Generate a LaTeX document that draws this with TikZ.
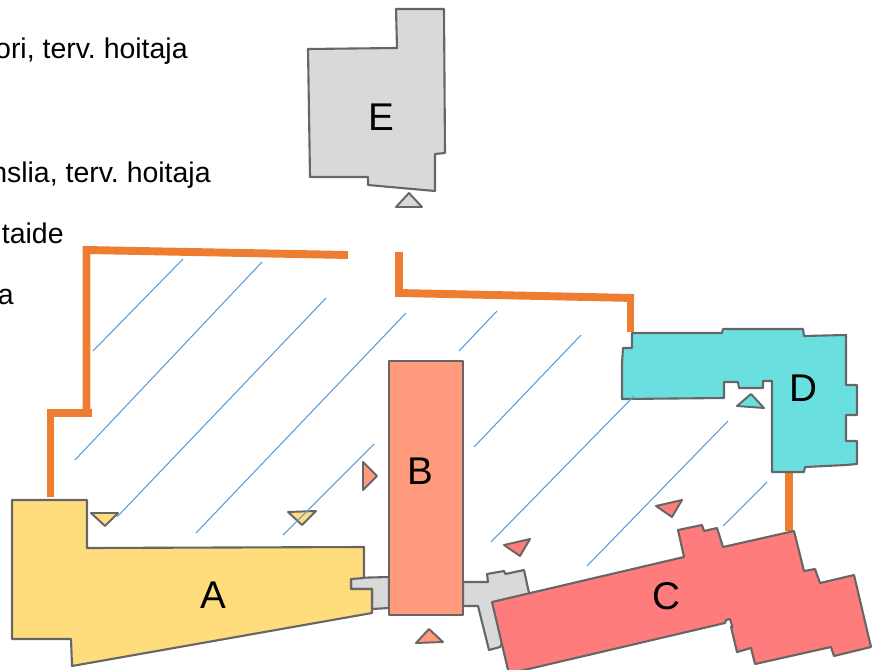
\documentclass[tikz,border=0pt]{standalone}
\usepackage{fontspec}
\setmainfont{Liberation Sans}
\definecolor{buildingA}{HTML}{FFDC7C}
\definecolor{buildingB}{HTML}{FF9B7C}
\definecolor{buildingC}{HTML}{FF7C7C}
\definecolor{buildingD}{HTML}{6ADFDF}
\definecolor{buildingE}{HTML}{D9D9D9}
\definecolor{wall}{HTML}{666666}
\definecolor{fenceline}{HTML}{ED7D31}
\definecolor{hatchline}{HTML}{5B9BD5}
\tikzstyle{building} = [draw=wall, line width=1.2pt, line join=round]
\tikzstyle{entry} = [draw=wall, line width=1.1pt, line join=round]
\tikzstyle{fence} = [draw=fenceline, line width=4.5pt]
\tikzstyle{hatch} = [draw=hatchline, line width=0.6pt]
\tikzstyle{letter} = [font=\fontsize{22}{26}\selectfont, inner sep=0pt]
\tikzstyle{legend} = [font=\fontsize{16.2}{20}\selectfont\frenchspacing, inner sep=0pt, anchor=base east]

\begin{document}
\begin{tikzpicture}[x=0.02cm, y=-0.02cm]
    \useasboundingbox (0,0) rectangle (875,669);
    % We start by placing the legend texts
    \node [legend, name=legend1] at (188,59) {ori, terv. hoitaja};
    \node [legend, name=legend2] at (211,182) {nslia, terv. hoitaja};
    \node [legend, name=legend3] at (64,243) {ntaide};
    \node [legend, name=legend4] at (14,304) {a};
    % The fence
    \draw [fence] (50.5,497) -- (50.5,413) -- (92,413);
    \draw [fence] (86.5,413) -- (86.5,250) -- (348,255);
    \draw [fence] (399,252) -- (399,293) -- (634,298);
    \draw [fence] (630.5,294) -- (630.5,332);
    \draw [fence] (789,472) -- (789,531);
    % The entrances
    \draw [entry, fill=buildingE] (409,193) -- (422,207) -- (396,207) -- cycle;
    \draw [entry, fill=buildingA] (91,513) -- (118,513) -- (105,526) -- cycle;
    \draw [entry, fill=buildingA] (288,512) -- (316,511) -- (302,525) -- cycle;
    \draw [entry, fill=buildingB] (363,462) -- (377,476) -- (363,490) -- cycle;
    \draw [entry, fill=buildingB] (429,629) -- (443,642) -- (416,643) -- cycle;
    \draw [entry, fill=buildingC] (504,545) -- (530,539) -- (520,556) -- cycle;
    \draw [entry, fill=buildingC] (656,506) -- (682,500) -- (672,517) -- cycle;
    \draw [entry, fill=buildingD] (751,394) -- (764,408) -- (737,406) -- cycle;
    % The grey links go below the buildings
    \draw [building, fill=buildingE] (351,578) -- (389,577) -- (389,608) -- (372,609) -- (372,589) -- (351,589) -- cycle;
    \draw [building, fill=buildingE] (463,582) -- (488,582) -- (487,574) -- (504,571) -- (505.5,574) -- (524,570)
        -- (529,593) -- (500,647) -- (489,650) -- (478,606) -- (463,606) -- cycle;
    % The buildings
    \draw [building, fill=buildingA] (12,500) -- (87,500) -- (87,548) -- (364,547) -- (364,578) -- (351,579) -- (351,589)
        -- (372,589) -- (372,613) -- (72,666) -- (71,639) -- (12,639) -- cycle;
    \draw [building, fill=buildingB] (389,361) rectangle (463,615);
    \draw [building, fill=buildingC] (492,602) -- (684,557) -- (678,530) -- (702,525) -- (704,531) -- (717,528) -- (723,547)
        -- (794,531) -- (804,571) -- (815,569) -- (820,583) -- (854,575) -- (871,647) -- (834,656) -- (831,647)
        -- (755,664) -- (751,648) -- (737,652) -- (731,627) -- (732.5,627) -- (730,619) -- (726,620) -- (725,623)
        -- (520,671) -- (508.5,672) -- cycle;
    \draw [building, fill=buildingD] (632,333) -- (722,333) -- (723,329) -- (803,329) -- (804,336) -- (846,335) -- (846,385)
        -- (857,385) -- (857,415) -- (846,415) -- (846,441) -- (857,441) -- (857,464) -- (846,465) -- (805,467)
        -- (804,472) -- (772,472) -- (772,381) -- (763,381) -- (763,388) -- (739,388) -- (738,382) -- (724,382)
        -- (724,398) -- (622,399) -- (622,363) -- (623,348) -- (632,348) -- cycle;
    \draw [building, fill=buildingE] (396,9) -- (444,9) -- (445,153) -- (435,154) -- (435,191) -- (368,185) -- (368,177)
        -- (310,177) -- (308,49) -- (397,48) -- cycle;
    % The hatched yard lies on top
    \draw [hatch] (183,259) -- (93,351);
    \draw [hatch] (262,262) -- (75,460);
    \draw [hatch] (326,298) -- (117,517);
    \draw [hatch] (406,313) -- (196,533);
    \draw [hatch] (374,444) -- (283,535);
    \draw [hatch] (497,311) -- (459,351);
    \draw [hatch] (581,335) -- (474,447);
    \draw [hatch] (634,396) -- (491,542);
    \draw [hatch] (728,421) -- (587,566);
    \draw [hatch] (767,482) -- (723,526);
    % Finally the letters
    \node [letter, name=labelA] at (213,595) {A};
    \node [letter, name=labelB] at (420,471) {B};
    \node [letter, name=labelC] at (666,596) {C};
    \node [letter, name=labelD] at (803,388) {D};
    \node [letter, name=labelE] at (381,117) {E};
\end{tikzpicture}
\end{document}
